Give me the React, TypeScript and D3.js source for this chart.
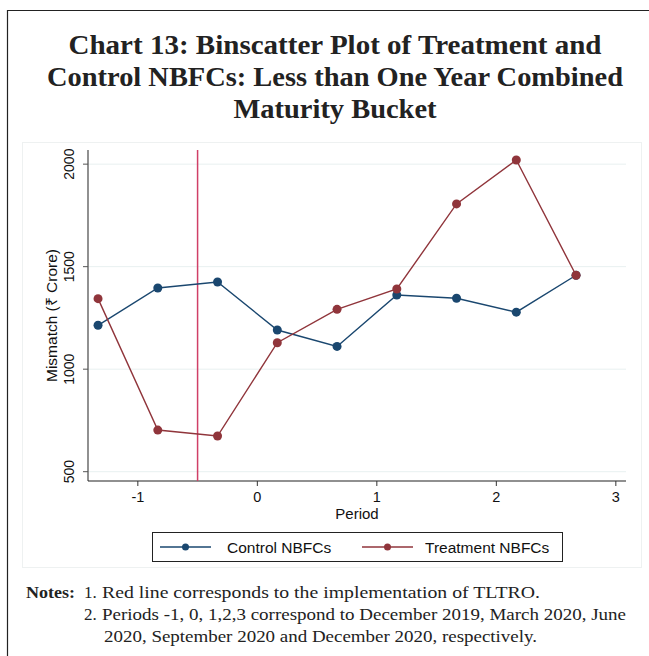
import React from "react";
import * as d3 from "d3";

const periods = [-1.333, -0.833, -0.333, 0.167, 0.667, 1.167, 1.667, 2.167, 2.667];
const controlValues = [1214, 1396, 1425, 1191, 1111, 1362, 1346, 1278, 1458];
const treatmentValues = [1344, 703, 674, 1129, 1292, 1391, 1806, 2020, 1458];
const xTicks = [-1, 0, 1, 2, 3];
const yTicks = [500, 1000, 1500, 2000];
const seriesNames = ["Control NBFCs", "Treatment NBFCs"];
const tltroPeriod = -0.5;
const titleLines = [
  "Chart 13: Binscatter Plot of Treatment and",
  "Control NBFCs: Less than One Year Combined",
  "Maturity Bucket",
];
const noteLines = [
  "Red line corresponds to the implementation of TLTRO.",
  "Periods -1, 0, 1,2,3 correspond to December 2019, March 2020, June",
  "2020, September 2020 and December 2020, respectively.",
];

const W = 649, H = 656;
const plot = { left: 88, right: 626, top: 150, bottom: 481 };
const BLUE = "#1a476f";
const RED = "#90353b";
const VLINE = "#d03f67";

export default function App() {
  const x = d3.scaleLinear().domain([-1.417, 3.085]).range([plot.left, plot.right]);
  const y = d3.scaleLinear().domain([454.6, 2069]).range([plot.bottom, plot.top]);
  const line = d3.line<number>().x((_, i) => x(periods[i])).y((d) => y(d));
  const series = [
    { name: seriesNames[0], values: controlValues, color: BLUE },
    { name: seriesNames[1], values: treatmentValues, color: RED },
  ];
  const sans = "Liberation Sans, Arial, sans-serif";
  const serif = "Liberation Serif, 'DejaVu Serif', serif";
  const titleLens = [533, 576, 203];
  return (
    <svg width={W} height={H} style={{ position: "absolute", left: 0, top: 0, background: "#fff" }}>
      <rect x={0} y={0} width={W} height={H} fill="#fff" />
      {/* outer frame */}
      <path d={`M7.5,${H} V10.5 H${W}`} fill="none" stroke="#222" strokeWidth={1.2} />
      {/* graph region */}
      <rect x={22.5} y={142.5} width={619} height={425} fill="#fff" stroke="#eef1f1" strokeWidth={1} />
      {titleLines.map((t, i) => (
        <text key={i} x={335} y={54 + i * 32} textAnchor="middle" fontFamily={serif} fontWeight="bold" fontSize={27} fill="#222"
          textLength={titleLens[i]} lengthAdjust="spacingAndGlyphs">
          {t}
        </text>
      ))}
      {/* grid */}
      {yTicks.map((t) => (
        <line key={t} x1={plot.left} x2={plot.right} y1={y(t)} y2={y(t)} stroke="#e8f0f0" strokeWidth={1} />
      ))}
      {/* axes */}
      <line x1={plot.left} x2={plot.left} y1={plot.top} y2={plot.bottom} stroke="#555" strokeWidth={1.3} />
      <line x1={plot.left} x2={plot.right} y1={plot.bottom} y2={plot.bottom} stroke="#222" strokeWidth={1.2} />
      {yTicks.map((t) => (
        <g key={t}>
          <line x1={plot.left - 5} x2={plot.left} y1={y(t)} y2={y(t)} stroke="#555" />
          <text transform={`translate(74,${y(t)}) rotate(-90)`} textAnchor="middle" fontFamily={sans} fontSize={14} fill="#111">
            {t}
          </text>
        </g>
      ))}
      {xTicks.map((t) => (
        <g key={t}>
          <line x1={x(t)} x2={x(t)} y1={plot.bottom} y2={plot.bottom + 5} stroke="#333" />
          <text x={x(t)} y={502} textAnchor="middle" fontFamily={sans} fontSize={14.5} fill="#111">
            {t}
          </text>
        </g>
      ))}
      <text x={(plot.left + plot.right) / 2} y={519} textAnchor="middle" fontFamily={sans} fontSize={15} fill="#111">
        Period
      </text>
      <text transform={`translate(57,${(plot.top + plot.bottom) / 2}) rotate(-90)`} textAnchor="middle" fontFamily={sans} fontSize={15.5} fill="#111">
        Mismatch (₹ Crore)
      </text>
      {/* TLTRO line */}
      <line x1={x(tltroPeriod)} x2={x(tltroPeriod)} y1={plot.top} y2={plot.bottom} stroke={VLINE} strokeWidth={1.5} />
      {series.map((s) => (
        <g key={s.name}>
          <path d={line(s.values) || ""} fill="none" stroke={s.color} strokeWidth={1.4} />
          {s.values.map((v, i) => (
            <circle key={i} cx={x(periods[i])} cy={y(v)} r={4.5} fill={s.color} />
          ))}
        </g>
      ))}
      {/* legend */}
      <rect x={152.5} y={532.5} width={410} height={29} fill="#fff" stroke="#222" strokeWidth={1} />
      {series.map((s, i) => {
        const lx = i === 0 ? 160 : 362;
        return (
          <g key={s.name}>
            <line x1={lx} x2={lx + 51} y1={547} y2={547} stroke={s.color} strokeWidth={1.4} />
            <circle cx={lx + 25.5} cy={547} r={3.5} fill={s.color} />
            <text x={lx + (i === 0 ? 67 : 63)} y={552.5} fontFamily={sans} fontSize={15.5} fill="#111">
              {s.name}
            </text>
          </g>
        );
      })}
      {/* notes */}
      <text x={26} y={598} fontFamily={serif} fontSize={17} fontWeight="bold" fill="#222" textLength={49} lengthAdjust="spacingAndGlyphs">
        Notes:
      </text>
      <text x={84} y={598} fontFamily={serif} fontSize={17} fill="#222">1.</text>
      <text x={102} y={598} fontFamily={serif} fontSize={17} fill="#222" textLength={438} lengthAdjust="spacingAndGlyphs">
        {noteLines[0]}
      </text>
      <text x={84} y={620} fontFamily={serif} fontSize={17} fill="#222">2.</text>
      <text x={102} y={620} fontFamily={serif} fontSize={17} fill="#222" textLength={524} lengthAdjust="spacingAndGlyphs">
        {noteLines[1]}
      </text>
      <text x={104} y={642} fontFamily={serif} fontSize={17} fill="#222" textLength={433} lengthAdjust="spacingAndGlyphs">
        {noteLines[2]}
      </text>
    </svg>
  );
}
